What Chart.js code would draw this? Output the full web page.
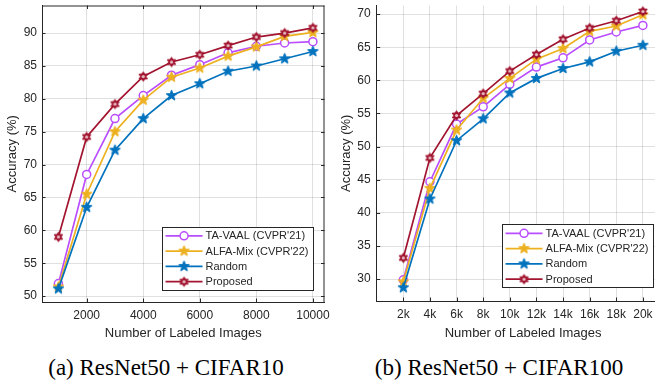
<!DOCTYPE html>
<html>
<head>
<meta charset="utf-8">
<script src="https://cdn.jsdelivr.net/npm/chart.js@4.4.0/dist/chart.umd.min.js"></script>
<style>
body{margin:0;background:#fff;width:655px;height:381px;overflow:hidden;position:relative}
#c1{position:absolute;left:0;top:0}
#c2{position:absolute;left:330px;top:0}
.cap{position:absolute;font-family:"Liberation Serif","Times New Roman",serif;font-size:23px;line-height:23px;color:#000;white-space:nowrap;transform:translateX(-50%)}
</style>
</head>
<body>
<canvas id="c1" width="330" height="345"></canvas>
<canvas id="c2" width="345" height="345"></canvas>
<div class="cap" style="left:166px;top:356px">(a) ResNet50 + CIFAR10</div>
<div class="cap" style="left:499px;top:356px">(b) ResNet50 + CIFAR100</div>
<script>
// legend names
const names = ['TA-VAAL (CVPR\'21)', 'ALFA-Mix (CVPR\'22)', 'Random', 'Proposed'];
const colors = ['#B94DFF', '#EDB120', '#0072BD', '#A2142F'];

// (a) ResNet50 + CIFAR10
const xA = [1000, 2000, 3000, 4000, 5000, 6000, 7000, 8000, 9000, 10000];
const taA = [51.9, 68.5, 77.0, 80.5, 83.6, 85.2, 87.0, 88.0, 88.5, 88.7];
const alA = [51.4, 65.5, 75.0, 79.8, 83.3, 84.7, 86.5, 87.9, 89.5, 90.1];
const rnA = [51.1, 63.5, 72.2, 77.0, 80.5, 82.3, 84.2, 85.0, 86.1, 87.2];
const prA = [59.0, 74.2, 79.2, 83.4, 85.6, 86.7, 88.1, 89.4, 90.0, 90.8];
const xTicksA = [2000, 4000, 6000, 8000, 10000];
const yTicksA = [50, 55, 60, 65, 70, 75, 80, 85, 90];

// (b) ResNet50 + CIFAR100
const xB = [2000, 4000, 6000, 8000, 10000, 12000, 14000, 16000, 18000, 20000];
const taB = [29.9, 44.7, 53.4, 56.0, 59.4, 62.0, 63.4, 66.1, 67.3, 68.3];
const alB = [29.6, 43.7, 52.5, 57.3, 60.3, 63.2, 64.8, 67.4, 68.2, 69.9];
const rnB = [28.7, 42.1, 50.9, 54.2, 58.1, 60.3, 61.8, 62.8, 64.4, 65.3];
const prB = [33.2, 48.3, 54.7, 58.0, 61.4, 63.9, 66.2, 67.9, 69.0, 70.4];
const xTicksB = [2000, 4000, 6000, 8000, 10000, 12000, 14000, 16000, 18000, 20000];
const yTicksB = [30, 35, 40, 45, 50, 55, 60, 65, 70];

const FONT = '"Liberation Sans", Arial, Helvetica, sans-serif';
const AXC = '#262626';

// star shaped markers drawn on small canvases
function starMarker(n, R, inner, fill, stroke, lw, dot) {
  const size = Math.ceil(2 * R + lw + 2);
  const c = document.createElement('canvas');
  c.width = c.height = size;
  const g = c.getContext('2d');
  const m = size / 2;
  g.beginPath();
  for (let i = 0; i < 2 * n; i++) {
    const a = -Math.PI / 2 + i * Math.PI / n;
    const r = i % 2 ? R * inner : R;
    g.lineTo(m + r * Math.cos(a), m + r * Math.sin(a));
  }
  g.closePath();
  g.fillStyle = fill;
  g.fill();
  g.lineWidth = lw;
  g.strokeStyle = stroke;
  g.stroke();
  if (dot) {
    g.fillStyle = dot;
    g.beginPath(); g.arc(m, m, 1.6, 0, 2 * Math.PI); g.fill();
  }
  return c;
}
const starAl = starMarker(5, 5.6, 0.42, colors[1], colors[1], 1);
const starRn = starMarker(5, 5.6, 0.42, colors[2], colors[2], 1);
const hexPr = starMarker(6, 4.8, 0.58, colors[3], colors[3], 1, '#e9c2c9');
const styles = ['circle', starAl, starRn, hexPr];

function makeSets(xs, lists) {
  return lists.map((vals, i) => ({
    label: names[i],
    data: xs.map((x, j) => ({ x: x, y: vals[j] })),
    borderColor: colors[i],
    backgroundColor: '#ffffff',
    borderWidth: 1.7,
    pointStyle: styles[i],
    pointRadius: 4,
    pointBorderWidth: 1.5,
    pointBorderColor: colors[i],
    pointBackgroundColor: '#ffffff',
    tension: 0,
    order: 4 - i
  }));
}

// box border + inward ticks
const boxPlugin = {
  id: 'boxTicks',
  afterDraw(chart, args, o) {
    const ctx = chart.ctx, a = chart.chartArea;
    const sx = chart.scales.x, sy = chart.scales.y;
    ctx.save();
    ctx.strokeStyle = AXC;
    ctx.lineWidth = 1;
    ctx.beginPath();
    if (o.full) {
      ctx.moveTo(a.left, a.top + 0.5); ctx.lineTo(a.right, a.top + 0.5);
      ctx.moveTo(a.right - 0.5, a.top); ctx.lineTo(a.right - 0.5, a.bottom);
    }
    const t = 3.5;
    sx.ticks.forEach(tk => {
      const p = Math.round(sx.getPixelForValue(tk.value)) + 0.5;
      ctx.moveTo(p, a.bottom); ctx.lineTo(p, a.bottom - t);
      if (o.full) { ctx.moveTo(p, a.top); ctx.lineTo(p, a.top + t); }
    });
    sy.ticks.forEach(tk => {
      const p = Math.round(sy.getPixelForValue(tk.value)) + 0.5;
      ctx.moveTo(a.left, p); ctx.lineTo(a.left + t, p);
      if (o.full) { ctx.moveTo(a.right, p); ctx.lineTo(a.right - t, p); }
    });
    ctx.stroke();
    ctx.restore();
  }
};

// legend box inside the plot, bottom right
const legendPlugin = {
  id: 'boxLegend',
  afterDraw(chart, args, o) {
    const ctx = chart.ctx, a = chart.chartArea;
    ctx.save();
    ctx.font = '11px ' + FONT;
    const tw = Math.max(...names.map(n => ctx.measureText(n).width));
    const w = 3.5 + 37 + 3 + tw + 5;
    const rowH = 15.3, h = 4 * rowH + 2;
    const right = a.right - o.right, bottom = a.bottom - o.bottom;
    const left = right - w, top = bottom - h;
    ctx.fillStyle = '#fff';
    ctx.fillRect(left, top, w, h);
    ctx.strokeStyle = AXC;
    ctx.lineWidth = 1;
    ctx.strokeRect(Math.round(left) + 0.5, Math.round(top) + 0.5, Math.round(w), Math.round(h));
    names.forEach((n, i) => {
      const y = top + 9 + i * rowH;
      const x0 = left + 3.5, x1 = x0 + 37, xm = (x0 + x1) / 2;
      ctx.strokeStyle = colors[i];
      ctx.lineWidth = 1.7;
      ctx.beginPath(); ctx.moveTo(x0, y); ctx.lineTo(x1, y); ctx.stroke();
      if (styles[i] === 'circle') {
        ctx.fillStyle = '#fff';
        ctx.lineWidth = 1.5;
        ctx.beginPath(); ctx.arc(xm, y, 4, 0, 2 * Math.PI); ctx.fill(); ctx.stroke();
      } else {
        const s = styles[i];
        ctx.drawImage(s, xm - s.width / 2, y - s.height / 2);
      }
      ctx.fillStyle = AXC;
      ctx.textBaseline = 'middle';
      ctx.fillText(n, x1 + 3, y + 0.5);
    });
    ctx.restore();
  }
};

function noPad(s) {
  s.paddingTop = 0; s.paddingBottom = 0; s.paddingLeft = 0; s.paddingRight = 0;
}

function makeChart(id, xs, lists, cfg) {
  return new Chart(document.getElementById(id), {
    type: 'line',
    data: { datasets: makeSets(xs, lists) },
    options: {
      responsive: false,
      animation: false,
      layout: { padding: { left: 0, top: 3, right: cfg.padR, bottom: 0 } },
      plugins: {
        legend: { display: false },
        tooltip: { enabled: false },
        boxTicks: { full: cfg.full },
        boxLegend: { right: cfg.legRight, bottom: cfg.legBottom }
      },
      scales: {
        x: {
          type: 'linear',
          min: cfg.xmin, max: cfg.xmax,
          afterBuildTicks: s => { s.ticks = cfg.xTicks.map(v => ({ value: v })); },
          afterFit: s => { s.height = cfg.xh; noPad(s); },
          ticks: {
            font: { family: FONT, size: 12 }, color: AXC, padding: 6, maxRotation: 0,
            callback: cfg.xfmt
          },
          grid: { color: 'rgba(0,0,0,0.12)', drawTicks: false },
          border: { display: true, color: AXC, width: 1 },
          title: { display: true, text: 'Number of Labeled Images', font: { family: FONT, size: 13 }, color: AXC, padding: { top: 4, bottom: 4 } }
        },
        y: {
          type: 'linear',
          min: cfg.ymin, max: cfg.ymax,
          afterBuildTicks: s => { s.ticks = cfg.yTicks.map(v => ({ value: v })); },
          afterFit: s => { s.width = cfg.yw; noPad(s); },
          ticks: { font: { family: FONT, size: 12 }, color: AXC, padding: cfg.ypad },
          grid: { color: 'rgba(0,0,0,0.12)', drawTicks: false },
          border: { display: true, color: AXC, width: 1 },
          title: { display: true, text: 'Accuracy (%)', font: { family: FONT, size: 13 }, color: AXC, padding: { top: cfg.ytitlePad, bottom: 4 } }
        }
      }
    },
    plugins: [boxPlugin, legendPlugin]
  });
}

makeChart('c1', xA, [taA, alA, rnA, prA], {
  full: true, legRight: 11, legBottom: 12, padR: 5,
  xmin: 420, xmax: 10410, ymin: 49.1, ymax: 94.2,
  xTicks: xTicksA, yTicks: yTicksA, xh: 43, yw: 42, ypad: 5, ytitlePad: 5,
  xfmt: v => String(v)
});

makeChart('c2', xB, [taB, alB, rnB, prB], {
  full: false, legRight: 16, legBottom: 13.5, padR: 5,
  xmin: 0, xmax: 22000, ymin: 26.7, ymax: 71.3,
  xTicks: xTicksB, yTicks: yTicksB, xh: 44, yw: 46.7, ypad: 6, ytitlePad: 9,
  xfmt: v => (v / 1000) + 'k'
});
</script>
</body>
</html>
